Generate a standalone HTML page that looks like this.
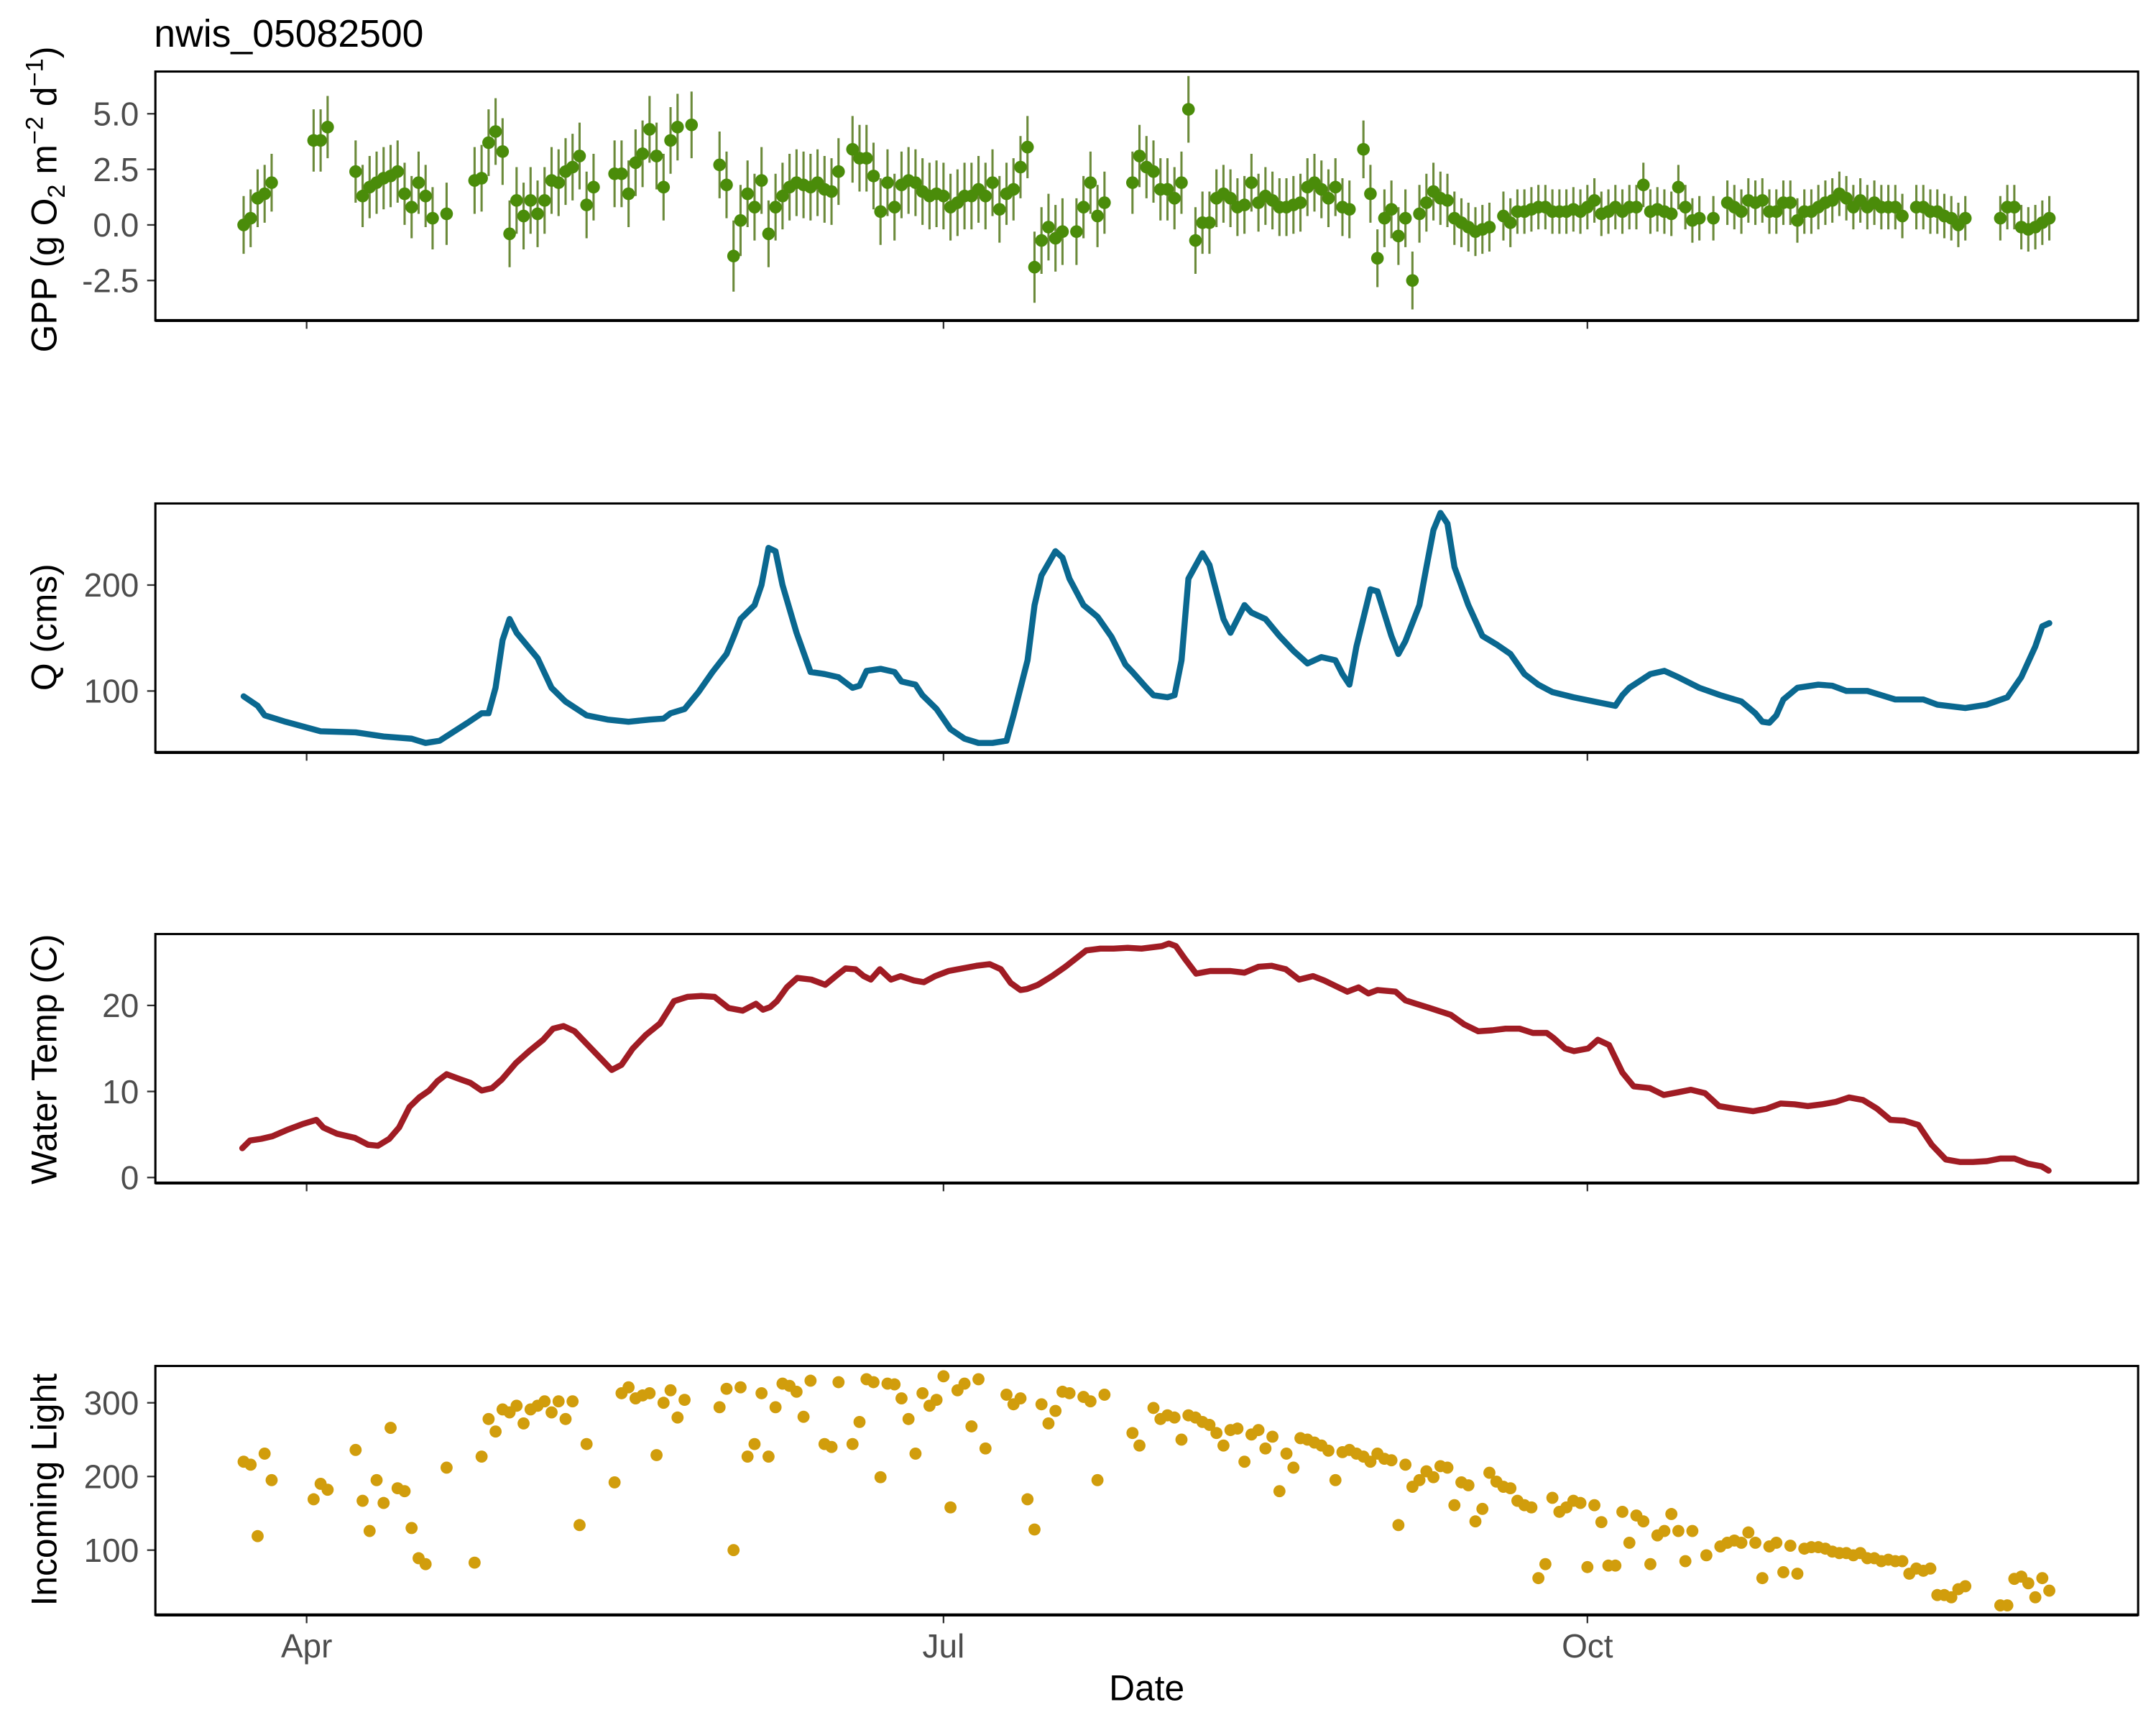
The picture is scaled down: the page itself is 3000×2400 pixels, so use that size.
<!DOCTYPE html>
<html><head><meta charset="utf-8"><title>nwis_05082500</title>
<style>html,body{margin:0;padding:0;background:#fff}svg{display:block}</style></head>
<body>
<svg id="chart" width="3000" height="2400" viewBox="0 0 1568 1254" preserveAspectRatio="none" xmlns="http://www.w3.org/2000/svg" font-family="Liberation Sans, Arial, sans-serif">
<rect x="0" y="0" width="1568" height="1254" fill="#fff"/>
<text x="112" y="34" font-size="28" fill="#000">nwis_05082500</text>
<g id="panels"></g>
</svg>
<script>
// x values: days since Apr 1
const xTickLabels = ["Apr","Jul","Oct"];
const xTickDays = [0, 91, 183];

const gppDays = [-9,-8,-7,-6,-5,1,2,3,7,8,9,10,11,12,13,14,15,16,17,18,20,24,25,26,27,28,29,30,31,32,33,34,35,36,37,38,39,40,41,44,45,46,47,48,49,50,51,52,53,55,59,60,61,62,63,64,65,66,67,68,69,70,71,72,73,74,75,76,78,79,80,81,82,83,84,85,86,87,88,89,90,91,92,93,94,95,96,97,98,99,100,101,102,103,104,105,106,107,108,110,111,112,113,114,118,119,120,121,122,123,124,125,126,127,128,129,130,131,132,133,134,135,136,137,138,139,140,141,142,143,144,145,146,147,148,149,151,152,153,154,155,156,157,158,159,160,161,162,163,164,165,166,167,168,169,171,172,173,174,175,176,177,178,179,180,181,182,183,184,185,186,187,188,189,190,191,192,193,194,195,196,197,198,199,201,203,204,205,206,207,208,209,210,211,212,213,214,215,216,217,218,219,220,221,222,223,224,225,226,227,228,230,231,232,233,234,235,236,237,242,243,244,245,246,247,248,249];
const gppValues = [0,0.3,1.2,1.4,1.9,3.8,3.8,4.4,2.4,1.3,1.7,1.9,2.1,2.2,2.4,1.4,0.8,1.9,1.3,0.3,0.5,2.0,2.1,3.7,4.2,3.3,-0.4,1.1,0.4,1.1,0.5,1.1,2.0,1.9,2.4,2.6,3.1,0.9,1.7,2.3,2.3,1.4,2.8,3.2,4.3,3.1,1.7,3.8,4.4,4.5,2.7,1.8,-1.4,0.2,1.4,0.8,2.0,-0.4,0.8,1.3,1.7,1.9,1.8,1.7,1.9,1.6,1.5,2.4,3.4,3.0,3.0,2.2,0.6,1.9,0.8,1.8,2.0,1.9,1.5,1.3,1.4,1.3,0.8,1.0,1.3,1.3,1.6,1.3,1.9,0.7,1.4,1.6,2.6,3.5,-1.9,-0.7,-0.1,-0.6,-0.3,-0.3,0.8,1.9,0.4,1.0,1.9,3.1,2.6,2.4,1.6,1.6,1.2,1.9,5.2,-0.7,0.1,0.1,1.2,1.4,1.2,0.8,0.9,1.9,1.0,1.3,1.1,0.8,0.8,0.9,1.0,1.7,1.9,1.6,1.2,1.7,0.8,0.7,3.4,1.4,-1.5,0.3,0.7,-0.5,0.3,-2.5,0.5,1.0,1.5,1.2,1.1,0.3,0.1,-0.1,-0.3,-0.2,-0.1,0.4,0.1,0.6,0.6,0.7,0.8,0.8,0.6,0.6,0.6,0.7,0.6,0.8,1.1,0.5,0.6,0.8,0.6,0.8,0.8,1.8,0.6,0.7,0.6,0.5,1.7,0.8,0.2,0.3,0.3,1.0,0.8,0.6,1.1,1.0,1.1,0.6,0.6,1.0,1.0,0.2,0.6,0.6,0.8,1.0,1.1,1.4,1.2,0.8,1.1,0.8,1.0,0.8,0.8,0.8,0.4,0.8,0.8,0.6,0.6,0.4,0.3,0.0,0.3,0.3,0.8,0.8,-0.1,-0.2,-0.1,0.1,0.3];
const gppErr = [1.3,1.3,1.3,1.3,1.3,1.4,1.4,1.4,1.4,1.4,1.4,1.4,1.4,1.4,1.4,1.4,1.4,1.4,1.4,1.4,1.4,1.5,1.5,1.5,1.5,1.5,1.5,1.5,1.5,1.5,1.5,1.5,1.5,1.5,1.5,1.5,1.5,1.5,1.5,1.5,1.5,1.5,1.5,1.5,1.5,1.5,1.5,1.5,1.5,1.5,1.5,1.5,1.6,1.6,1.5,1.5,1.5,1.5,1.5,1.5,1.5,1.5,1.5,1.5,1.5,1.5,1.5,1.5,1.5,1.5,1.5,1.5,1.5,1.5,1.5,1.5,1.5,1.5,1.5,1.5,1.5,1.5,1.5,1.5,1.5,1.5,1.5,1.5,1.5,1.5,1.4,1.4,1.4,1.4,1.6,1.5,1.5,1.5,1.5,1.5,1.4,1.4,1.4,1.4,1.4,1.4,1.4,1.4,1.4,1.4,1.4,1.4,1.5,1.5,1.4,1.4,1.3,1.3,1.3,1.3,1.3,1.3,1.3,1.3,1.3,1.3,1.3,1.3,1.3,1.3,1.3,1.3,1.3,1.3,1.3,1.3,1.3,1.3,1.3,1.3,1.3,1.3,1.3,1.3,1.3,1.3,1.3,1.2,1.2,1.2,1.1,1.1,1.1,1.1,1.1,1.1,1.1,1.0,1.0,1.0,1.0,1.0,1.0,1.0,1.0,1.0,1.0,1.0,1.0,1.0,1.0,1.0,1.0,1.0,1.0,1.0,1.0,1.0,1.0,1.0,1.0,1.0,1.0,1.0,1.0,1.0,1.0,1.0,1.0,1.0,1.0,1.0,1.0,1.0,1.0,1.0,1.0,1.0,1.0,1.0,1.0,1.0,1.0,1.0,1.0,1.0,1.0,1.0,1.0,1.0,1.0,1.0,1.0,1.0,1.0,1.0,1.0,1.0,1.0,1.0,1.0,1.0,1.0,1.0,1.0,1.0,1.0,1.0,1.0,1.0,1.0,1.0,1.0];
const gppTicks = [5.0, 2.5, 0.0, -2.5];

const qDays = [-9,-7,-6,-3,2,7,11,15,17,19,23,25,26,27,28,29,30,33,35,37,40,43,46,49,51,52,54,56,58,60,61,62,64,65,66,67,68,70,72,74,76,78,79,80,82,84,85,87,88,90,92,94,96,98,100,101,103,104,105,107,108,109,111,113,115,117,118,120,121,123,124,125,126,128,129,131,132,134,135,137,139,141,143,145,147,148,149,150,152,153,155,156,157,159,160,161,162,163,164,166,168,170,172,174,176,178,181,184,187,188,189,192,194,196,199,202,205,207,208,209,210,211,213,216,218,220,223,225,227,231,233,237,240,243,245,247,248,249];
const qValues = [95,86,77,71,62,61,57,55,51,53,70,79,79,103,148,168,155,131,103,90,77,73,71,73,74,79,83,99,118,135,151,168,181,200,235,232,200,155,118,116,113,103,105,119,121,118,109,106,96,83,64,55,51,51,53,77,129,181,209,232,226,206,181,170,151,125,118,103,96,94,96,129,206,230,219,168,155,181,174,168,152,138,126,132,129,116,106,142,196,194,152,135,147,181,217,252,268,258,217,181,152,144,135,116,106,99,94,90,86,96,103,116,119,113,103,96,90,79,71,70,77,92,103,106,105,100,100,96,92,92,87,84,87,94,113,142,161,164];
const qTicks = [200, 100];

const tDays = [-9.2,-8.1,-6.5,-4.9,-2.6,-0.6,1.4,2.4,4.3,6.9,8.8,10.2,11.8,13.2,14.7,16.1,17.5,18.7,20.0,22.0,23.4,25.0,26.5,27.9,29.9,31.8,33.8,35.2,36.7,38.3,39.7,41.7,43.6,45.0,46.6,48.5,50.5,52.5,54.4,56.4,58.3,60.3,62.3,64.2,65.2,66.2,67.2,68.6,70.1,72.1,74.1,75.6,77.0,78.4,79.6,80.6,81.9,83.5,84.9,86.8,88.2,89.8,91.7,93.7,95.7,97.6,99.2,100.6,102.0,102.9,104.5,106.5,108.4,111.4,113.4,115.3,117.3,119.3,122.2,123.2,124.2,125.5,127.1,129.1,132.0,134.0,136.0,137.9,139.9,141.8,143.8,145.4,147.2,148.7,150.3,151.7,153.0,155.6,157.0,158.5,160.5,163.5,165.4,167.4,169.4,171.3,173.3,175.2,177.2,178.2,179.8,181.1,183.1,184.5,186.1,188.0,189.6,191.9,193.9,195.9,197.8,199.8,201.8,204.1,206.7,208.6,210.6,212.6,214.5,216.5,218.5,220.4,222.4,224.4,226.3,228.3,230.3,232.2,234.2,236.2,238.1,240.1,242.0,244.0,246.0,247.9,248.9];
const tValues = [3.4,4.3,4.5,4.8,5.6,6.2,6.7,5.8,5.1,4.6,3.8,3.7,4.5,5.8,8.2,9.3,10.1,11.2,12.0,11.4,11.0,10.1,10.4,11.4,13.3,14.7,16.0,17.3,17.6,17.0,15.8,14.1,12.5,13.1,15.0,16.6,17.9,20.5,21.0,21.1,21.0,19.7,19.4,20.2,19.5,19.8,20.5,22.1,23.2,23.0,22.4,23.4,24.3,24.2,23.4,23.0,24.2,23.0,23.4,22.9,22.7,23.4,24.0,24.3,24.6,24.8,24.2,22.6,21.8,21.9,22.4,23.4,24.5,26.4,26.6,26.6,26.7,26.6,26.9,27.2,26.9,25.4,23.7,24.0,24.0,23.8,24.5,24.6,24.2,23.0,23.4,22.9,22.2,21.6,22.1,21.4,21.8,21.6,20.6,20.2,19.7,18.9,17.8,17.0,17.1,17.3,17.3,16.8,16.8,16.2,15.0,14.7,15.0,16.0,15.4,12.2,10.6,10.4,9.6,9.9,10.2,9.8,8.3,8.0,7.7,8.0,8.6,8.5,8.3,8.5,8.8,9.3,9.0,8.0,6.7,6.6,6.1,3.8,2.1,1.8,1.8,1.9,2.2,2.2,1.6,1.3,0.8];
const tTicks = [20, 10, 0];

const lightDays = [-9,-8,-7,-6,-5,1,2,3,7,8,9,10,11,12,13,14,15,16,17,20,24,25,26,27,28,29,30,31,32,33,34,35,36,37,38,39,40,44,45,46,47,48,49,50,51,52,53,54,59,60,61,62,63,64,65,66,67,68,69,70,71,72,74,75,76,78,79,80,81,82,83,84,85,86,87,88,89,90,91,92,93,94,95,96,97,100,101,102,103,104,105,106,107,108,109,111,112,113,114,118,119,121,122,123,124,125,126,127,128,129,130,131,132,133,134,135,136,137,138,139,140,141,142,143,144,145,146,147,148,149,150,151,152,153,154,155,156,157,158,159,160,161,162,163,164,165,166,167,168,169,170,171,172,173,174,175,176,177,178,179,180,181,182,183,184,185,186,187,188,189,190,191,192,193,194,195,196,197,198,200,202,203,204,205,206,207,208,209,210,211,212,213,214,215,216,217,218,219,220,221,222,223,224,225,226,227,228,229,230,231,232,233,234,235,236,237,242,243,244,245,246,247,248,249];
const lightValues = [220,216,119,231,195,169,190,182,236,167,126,195,164,266,184,180,130,89,81,212,83,227,278,261,291,287,296,272,291,296,302,287,302,278,302,134,244,192,313,321,306,310,313,229,300,317,280,304,294,319,100,321,227,244,313,227,294,326,323,315,281,330,244,240,328,244,274,332,328,199,326,325,306,278,231,313,296,304,336,158,317,326,268,332,238,311,298,306,169,128,298,272,289,315,313,308,302,195,311,259,242,293,278,283,280,250,283,280,274,270,259,242,263,265,220,257,263,238,254,180,231,212,252,250,246,242,235,195,233,236,231,227,220,231,224,222,134,216,186,195,207,199,214,212,161,192,188,139,156,205,193,186,184,167,161,158,62,81,171,152,158,167,164,77,161,138,79,79,152,110,147,139,81,120,126,149,126,85,126,93,105,110,113,110,124,110,62,105,110,70,106,68,102,104,104,102,98,96,96,93,96,89,89,85,87,85,85,68,75,72,75,39,39,36,47,51,25,25,61,64,55,36,62,45];
const lightTicks = [300, 200, 100];

const NS = "http://www.w3.org/2000/svg";
const root = document.getElementById('panels');
const X0 = 113, X1 = 1555;
function xScale(d){ return 223 + d * 5.09; }
function mk(tag, attrs, parent){ const e = document.createElementNS(NS, tag); for (const k in attrs) e.setAttribute(k, attrs[k]); (parent||root).appendChild(e); return e; }
function yScaleFactory(top, bottom, vTop, vBot){ return v => top + (vTop - v) / (vTop - vBot) * (bottom - top); }

const panels = [
  {name:'gpp', top:52, bottom:233, vTop:6.9, vBot:-4.3, ticks:gppTicks, fmt:v=>v.toFixed(1), title:null, ty:142},
  {name:'discharge', top:366, bottom:547, vTop:277, vBot:42, ticks:qTicks, fmt:v=>String(v), title:'Q (cms)', ty:456},
  {name:'water-temp', top:679, bottom:860, vTop:28.3, vBot:-0.64, ticks:tTicks, fmt:v=>String(v), title:'Water Temp (C)', ty:770},
  {name:'incoming-light', top:993, bottom:1174, vTop:350, vBot:12, ticks:lightTicks, fmt:v=>String(v), title:'Incoming Light', ty:1083}
];
const ys = {};
panels.forEach(p => {
  const g = mk('g', {});
  
  
  const y = yScaleFactory(p.top, p.bottom, p.vTop, p.vBot);
  ys[p.name] = y;
  p.g = g;
  p.ticks.forEach(v => {
    const t = mk('line', {x1:107, x2:113, y1:y(v), y2:y(v), stroke:'#333', 'stroke-width':1.2}, g);
    
    
    const l = mk('text', {x:101, y:y(v)+8.5, 'text-anchor':'end', 'font-size':24, fill:'#4d4d4d'}, g);
    l.textContent = p.fmt(v);
    
    
  });
  xTickDays.forEach(d => {
    const t = mk('line', {x1:xScale(d), x2:xScale(d), y1:p.bottom, y2:p.bottom+6, stroke:'#333', 'stroke-width':1.2}, g);
    
    
  });
  if (p.title) {
    const tt = mk('text', {x:0, y:0, transform:`translate(41,${p.ty}) rotate(-90)`, 'text-anchor':'middle', 'font-size':26, fill:'#000'}, g);
    tt.textContent = p.title;
    
    
  }
});

// GPP title with sub/superscripts
{
  const tt = mk('text', {x:0, y:0, transform:'translate(41,145) rotate(-90)', 'text-anchor':'middle', 'font-size':26, fill:'#000'}, panels[0].g);
  tt.innerHTML = 'GPP (g  O<tspan font-size="18" dy="6">2</tspan><tspan dy="-6"> m</tspan><tspan font-size="18" dy="-10">−2</tspan><tspan dy="10">  d</tspan><tspan font-size="18" dy="-10">−1</tspan><tspan dy="10">)</tspan>';
  
  
}

// GPP error bars and points
{
  const y = ys['gpp'], g = panels[0].g;
  gppDays.forEach((d, i) => {
    const b = mk('line', {x1:xScale(d), x2:xScale(d), y1:y(gppValues[i]+gppErr[i]), y2:y(gppValues[i]-gppErr[i]), stroke:'#6b8a3a', 'stroke-width':1.6}, g);
    
    
  });
  gppDays.forEach((d, i) => {
    const c = mk('circle', {cx:xScale(d), cy:y(gppValues[i]), r:4.6, fill:'#4a8c0a'}, g);
    
    
  });
}
// Q line
{
  const y = ys['discharge'];
  const pts = qDays.map((d, i) => xScale(d).toFixed(1) + ',' + y(qValues[i]).toFixed(1)).join(' ');
  const l = mk('polyline', {points:pts, fill:'none', stroke:'#0a6890', 'stroke-width':4.4, 'stroke-linejoin':'round', 'stroke-linecap':'round'}, panels[1].g);
  
  
}
// Temp line
{
  const y = ys['water-temp'];
  const pts = tDays.map((d, i) => xScale(d).toFixed(1) + ',' + y(tValues[i]).toFixed(1)).join(' ');
  const l = mk('polyline', {points:pts, fill:'none', stroke:'#a01c24', 'stroke-width':4.4, 'stroke-linejoin':'round', 'stroke-linecap':'round'}, panels[2].g);
  
  
}
// Light points
{
  const y = ys['incoming-light'];
  lightDays.forEach((d, i) => {
    const c = mk('circle', {cx:xScale(d), cy:y(lightValues[i]), r:4.4, fill:'#d19d0c'}, panels[3].g);
    
    
  });
}
// borders on top
panels.forEach(p => {
  const r = mk('rect', {x:X0, y:p.top, width:X1-X0, height:p.bottom-p.top, fill:'none', stroke:'#000', 'stroke-width':1.6}, p.g);
  
  
  const b = mk('line', {x1:X0, x2:X1, y1:p.bottom, y2:p.bottom, stroke:'#000', 'stroke-width':2.2}, p.g);
  
  
});
// x tick labels + title
xTickDays.forEach((d, i) => {
  const t = mk('text', {x:xScale(d), y:1205, 'text-anchor':'middle', 'font-size':24, fill:'#4d4d4d'});
  t.textContent = xTickLabels[i];
  
  
});
{
  const t = mk('text', {x:834, y:1236, 'text-anchor':'middle', 'font-size':26, fill:'#000'});
  t.textContent = 'Date';
  
  
}
</script>
</body></html>
